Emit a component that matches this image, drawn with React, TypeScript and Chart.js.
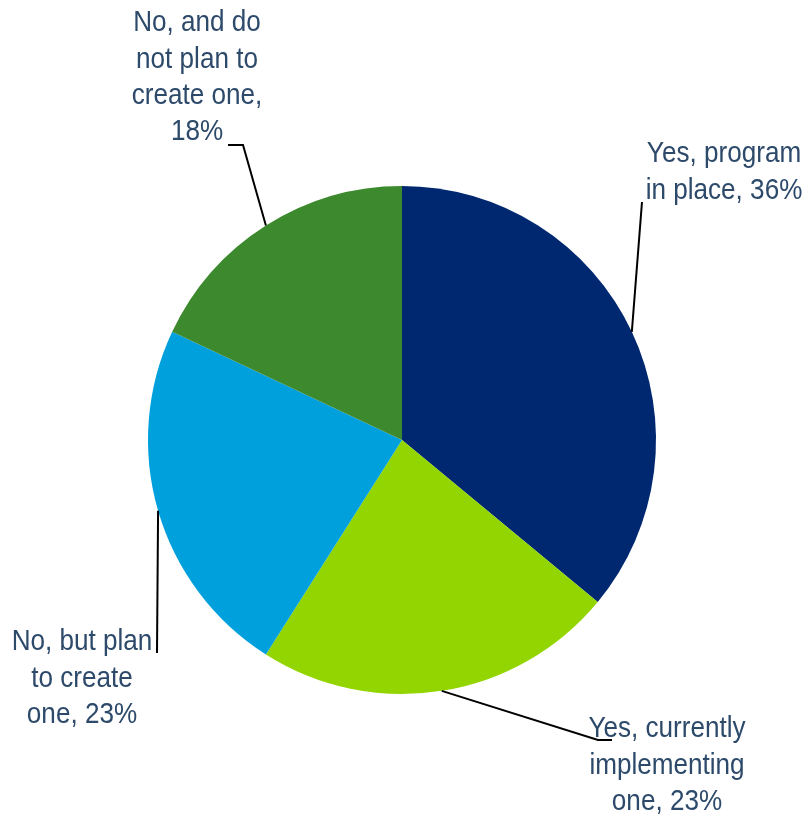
import React, { useEffect, useRef } from "react";
import { Chart, registerables } from "chart.js";

Chart.register(...registerables);

const categories = [
  "Yes, program in place",
  "Yes, currently implementing one",
  "No, but plan to create one",
  "No, and do not plan to create one",
];
const values = [36, 23, 23, 18];
const colors = ["#002870", "#93D500", "#00A0DC", "#3D8A2E"];
const labelLines = [
  ["Yes, program", "in place, 36%"],
  ["Yes, currently", "implementing", "one, 23%"],
  ["No, but plan", "to create", "one, 23%"],
  ["No, and do", "not plan to", "create one,", "18%"],
];
// label layout: text center x, first line middle y, elbow points
const labelLayout = [
  { cx: 724, y0: 154, pts: [[642, 202]] },
  { cx: 667, y0: 729, pts: [[598, 740], [612, 740]] },
  { cx: 82, y0: 642, pts: [[157, 653]] },
  { cx: 197, y0: 23, pts: [[243, 145], [228, 145]] },
];
const narrow = 0.87;

const labelPlugin = {
  id: "leaderLabels",
  afterDraw(chart: any) {
    const ctx = chart.ctx;
    const meta = chart.getDatasetMeta(0);
    meta.data.forEach((arc: any, i: number) => {
      const mid = (arc.startAngle + arc.endAngle) / 2;
      const ax = arc.x + Math.cos(mid) * arc.outerRadius;
      const ay = arc.y + Math.sin(mid) * arc.outerRadius;
      const lay = labelLayout[i];
      ctx.save();
      ctx.beginPath();
      ctx.moveTo(ax, ay);
      lay.pts.forEach((p) => ctx.lineTo(p[0], p[1]));
      ctx.strokeStyle = "#000000";
      ctx.lineWidth = 2;
      ctx.stroke();
      ctx.restore();
      ctx.save();
      ctx.translate(lay.cx, 0);
      ctx.scale(narrow, 1);
      ctx.fillStyle = "#2D4A6B";
      ctx.font = '30px "Liberation Sans", Arial, sans-serif';
      ctx.textAlign = "center";
      ctx.textBaseline = "middle";
      labelLines[i].forEach((t, k) => {
        ctx.fillText(t, 0, lay.y0 + k * 36.3);
      });
      ctx.restore();
    });
  },
};

export default function App() {
  const ref = useRef<HTMLCanvasElement | null>(null);
  useEffect(() => {
    document.body.style.margin = "0";
    const chart = new Chart(ref.current as HTMLCanvasElement, {
      type: "pie",
      data: {
        labels: categories,
        datasets: [
          {
            data: values,
            backgroundColor: colors,
            borderWidth: 0,
          },
        ],
      },
      options: {
        responsive: false,
        animation: false,
        layout: { padding: { left: 148, right: 153, top: 186, bottom: 123 } },
        plugins: {
          legend: { display: false },
          tooltip: { enabled: false },
        },
      },
      plugins: [labelPlugin],
    });
    return () => chart.destroy();
  }, []);
  return (
    <div style={{ position: "absolute", left: 0, top: 0, width: 809, height: 817 }}>
      <canvas ref={ref} width={809} height={817} style={{ width: 809, height: 817 }} />
    </div>
  );
}
